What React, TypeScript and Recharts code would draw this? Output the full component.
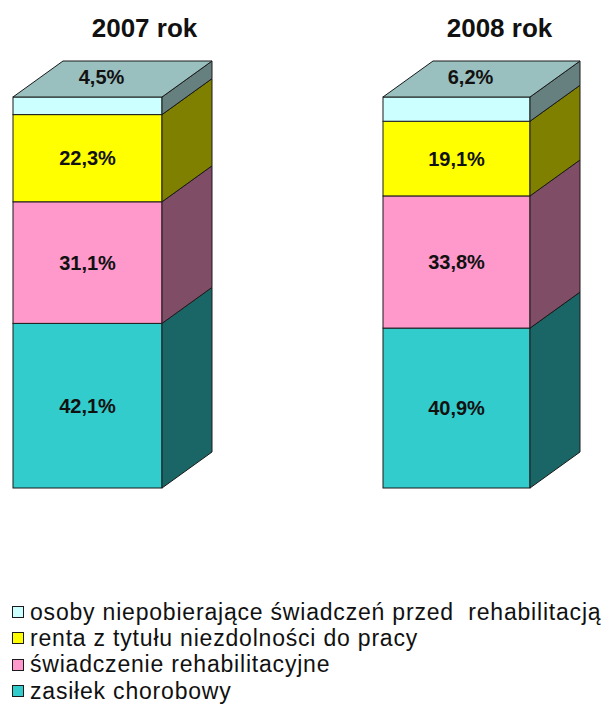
import { BarChart, Bar, XAxis, YAxis, LabelList } from 'recharts';

const years = ['2007 rok', '2008 rok'];
const zasilek = [42.1, 40.9];
const swiadczenie = [31.1, 33.8];
const renta = [22.3, 19.1];
const osoby = [4.5, 6.2];

const series = [
  { key: 'zasilek', name: 'zasiłek chorobowy', values: zasilek, fill: '#33CCCC', side: '#1A6666', top: '#26999A' },
  { key: 'swiadczenie', name: 'świadczenie rehabilitacyjne', values: swiadczenie, fill: '#FF99CC', side: '#804D66', top: '#BF7399' },
  { key: 'renta', name: 'renta z tytułu niezdolności do pracy', values: renta, fill: '#FFFF00', side: '#808000', top: '#BFBF00' },
  { key: 'osoby', name: 'osoby niepobierające świadczeń przed  rehabilitacją', values: osoby, fill: '#CCFFFF', side: '#668080', top: '#99BFBF' },
];

const DX = 50;
const DY = 36;
const EDGE = '#1a1a1a';

const fmt = (v: number) => v.toFixed(1).replace('.', ',') + '%';

function Box3D(props: any) {
  const { x, y, width, height, fill, side, top, isTop } = props;
  if (width == null || height == null) return null;
  const r = x + width;
  const b = y + height;
  return (
    <g>
      <rect x={x} y={y} width={width} height={height} fill={fill} stroke={EDGE} strokeWidth={1} />
      <polygon
        points={`${r},${y} ${r + DX},${y - DY} ${r + DX},${b - DY} ${r},${b}`}
        fill={side}
        stroke={EDGE}
        strokeWidth={1}
      />
      {isTop && (
        <polygon
          points={`${x},${y} ${x + DX},${y - DY} ${r + DX},${y - DY} ${r},${y}`}
          fill={top}
          stroke={EDGE}
          strokeWidth={1}
        />
      )}
    </g>
  );
}

function SegLabel(props: any) {
  const { x, y, width, height, value, isTop } = props;
  const cx = x + width / 2 + (isTop ? 14 : 0);
  const cy = isTop ? y - 20 : y + height / 2;
  return (
    <text x={cx} y={cy} textAnchor="middle" dominantBaseline="central"
      fontFamily="'Liberation Sans', Arial, sans-serif" fontWeight="bold" fontSize={20} fill="#111">
      {fmt(value)}
    </text>
  );
}

function YearTick(props: any) {
  const { x, payload, shift } = props;
  return (
    <text x={x + shift} y={37} textAnchor="middle"
      fontFamily="'Liberation Sans', Arial, sans-serif" fontWeight="bold" fontSize={26} fill="#111">
      {payload.value}
    </text>
  );
}

function YearChart({ idx, left, width, margin, shift }: any) {
  const row: any = { year: years[idx] };
  series.forEach((s) => { row[s.key] = s.values[idx]; });
  return (
    <div style={{ position: 'absolute', left, top: 0 }}>
      <BarChart width={width} height={500} data={[row]} margin={margin} barCategoryGap={0}>
        <XAxis dataKey="year" orientation="top" height={30} axisLine={false} tickLine={false}
          tick={<YearTick shift={shift} />} interval={0} />
        <YAxis hide domain={[0, 100]} />
        {series.map((s, i) => {
          const isTop = i === series.length - 1;
          return (
            <Bar key={s.key} dataKey={s.key} stackId="a" fill={s.fill} isAnimationActive={false}
              shape={(p: any) => <Box3D {...p} side={s.side} top={s.top} isTop={isTop} />}>
              <LabelList dataKey={s.key} content={(p: any) => <SegLabel {...p} isTop={isTop} />} />
            </Bar>
          );
        })}
      </BarChart>
    </div>
  );
}

export default function App() {
  const legendItems = [...series].reverse();
  return (
    <div style={{ position: 'absolute', left: 0, top: 0, width: 604, height: 713, background: '#fff', overflow: 'hidden' }}>
      <YearChart idx={0} left={0} width={290} margin={{ top: 67, left: 13, right: 128, bottom: 12 }} shift={57} />
      <YearChart idx={1} left={300} width={304} margin={{ top: 67, left: 83, right: 74, bottom: 12 }} shift={43} />
      <div style={{ position: 'absolute', left: 12, top: 599, fontFamily: "'Liberation Sans', Arial, sans-serif", fontSize: 23, letterSpacing: 0.8, color: '#111' }}>
        {legendItems.map((s) => (
          <div key={s.key} style={{ display: 'flex', alignItems: 'center', height: 26.3, whiteSpace: 'pre' }}>
            <span style={{ display: 'inline-block', width: 10, height: 10, background: s.fill, border: `1px solid ${EDGE}`, marginRight: 6 }} />
            <span>{s.name}</span>
          </div>
        ))}
      </div>
    </div>
  );
}
